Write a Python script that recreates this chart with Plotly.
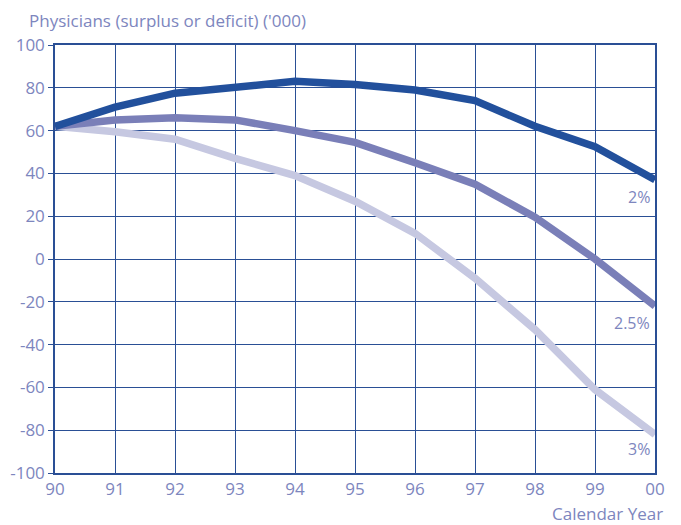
import plotly.graph_objects as go

years = [1990, 1991, 1992, 1993, 1994, 1995, 1996, 1997, 1998, 1999, 2000]
year_labels = ["90", "91", "92", "93", "94", "95", "96", "97", "98", "99", "00"]
y_ticks = [-100, -80, -60, -40, -20, 0, 20, 40, 60, 80, 100]
y_tick_labels = ["-100", "-80", "-60", "-40", "-20", "0", "20", "40", "60", "80", "100"]
growth_2 = [62, 71, 77.5, 80, 83, 81.5, 79, 74, 62, 52.5, 37]
growth_25 = [62, 65, 66, 65, 60, 54.5, 45, 35, 19.5, 0, -22]
growth_3 = [62, 59.5, 56, 47, 39, 27, 12, -9, -33, -61, -82]
series_names = ["2%", "2.5%", "3%"]
label_y = [29, -30, -89]

colors = ["#22509c", "#7a7fb8", "#c6c8e1"]
text_color = "#7d86be"
grid_color = "#2a4f95"
font_family = "Open Sans, Lato, sans-serif"

fig = go.Figure()
series = list(zip(series_names, [growth_2, growth_25, growth_3], colors))
for name, vals, col in reversed(series):
    fig.add_trace(go.Scatter(x=years, y=vals, mode="lines", name=name,
                             line=dict(color=col, width=7.5), showlegend=False))

for name, ly in zip(series_names, label_y):
    fig.add_annotation(x=years[-1], y=ly, xref="x", yref="y", text=name,
                       showarrow=False, xanchor="right", yanchor="middle", xshift=-3,
                       font=dict(size=16, color=text_color, family=font_family))

fig.add_annotation(x=-0.047, y=1.058, xref="paper", yref="paper",
                   text="Physicians (surplus or deficit) ('000)", showarrow=False,
                   xanchor="left", yanchor="middle",
                   font=dict(size=17, color=text_color, family=font_family))
fig.add_annotation(x=1.0167, y=-0.094, xref="paper", yref="paper",
                   text="Calendar Year", showarrow=False,
                   xanchor="right", yanchor="middle",
                   font=dict(size=17, color=text_color, family=font_family))

fig.update_xaxes(range=[1990, 2000], tickvals=years, ticktext=year_labels,
                 showgrid=True, gridcolor=grid_color, gridwidth=1,
                 showline=True, linecolor=grid_color, linewidth=1.5, mirror=True,
                 ticks="", zeroline=False, automargin=False,
                 tickfont=dict(size=17, color=text_color, family=font_family))
fig.update_yaxes(range=[-100, 100], tickvals=y_ticks, ticktext=y_tick_labels,
                 showgrid=True, gridcolor=grid_color, gridwidth=1,
                 showline=True, linecolor=grid_color, linewidth=1.5, mirror=True,
                 ticks="outside", ticklen=5, tickcolor=grid_color, zeroline=False,
                 automargin=False,
                 tickfont=dict(size=17, color=text_color, family=font_family))

fig.update_layout(width=681, height=525, margin=dict(l=55, r=26, t=45, b=52),
                  plot_bgcolor="white", paper_bgcolor="white")

fig.write_html("out.html", config={"displayModeBar": False},
               post_script="document.body.style.margin='0';")
